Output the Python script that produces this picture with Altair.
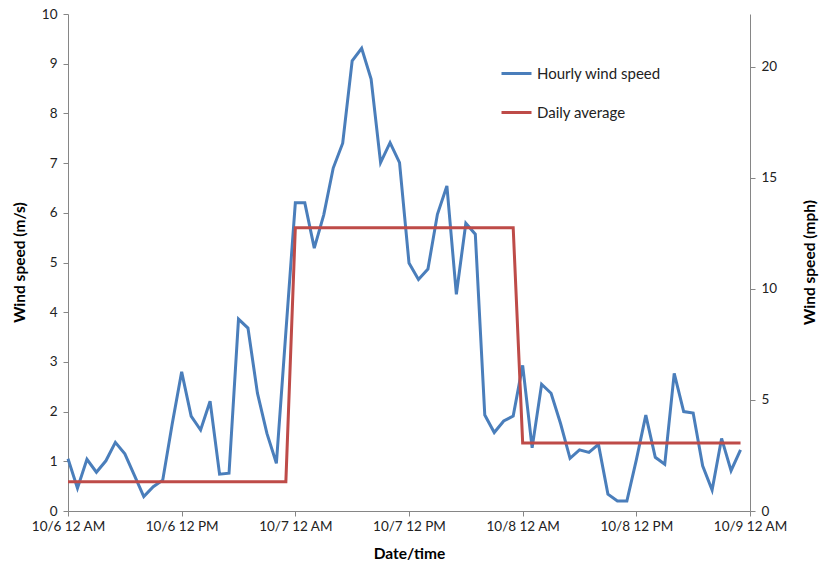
import altair as alt
import pandas as pd

# Hourly wind speed (m/s), 10/6 00:00 .. 10/8 23:00
hourly = [1.05, 0.46, 1.04, 0.78, 1.01, 1.38, 1.15, 0.72, 0.29, 0.49, 0.62, 1.75,
          2.80, 1.91, 1.63, 2.21, 0.74, 0.76, 3.86, 3.68, 2.37, 1.56, 0.96, 3.60,
          6.20, 6.20, 5.29, 5.96, 6.90, 7.40, 9.06, 9.31, 8.69, 7.01, 7.41, 7.01,
          4.99, 4.66, 4.87, 5.97, 6.54, 4.36, 5.79, 5.57, 1.93, 1.58, 1.81, 1.91,
          2.93, 1.27, 2.55, 2.37, 1.76, 1.06, 1.23, 1.18, 1.34, 0.34, 0.20, 0.20,
          1.03, 1.93, 1.08, 0.94, 2.77, 2.00, 1.97, 0.91, 0.42, 1.46, 0.81, 1.23]
daily_avg = [0.59, 5.70, 1.37]
tick_labels = ["10/6 12 AM", "10/6 12 PM", "10/7 12 AM", "10/7 12 PM",
               "10/8 12 AM", "10/8 12 PM", "10/9 12 AM"]
series_names = ["Hourly wind speed", "Daily average"]
MPH = 2.23694

hours = list(range(len(hourly)))
rows = []
for h, v in zip(hours, hourly):
    rows.append({"hour": h, "value": v, "series": series_names[0]})
for h in hours:
    rows.append({"hour": h, "value": daily_avg[h // 24], "series": series_names[1]})
df = pd.DataFrame(rows)
df["mph"] = df["value"] * MPH

label_arr = "[" + ",".join("'" + t + "'" for t in tick_labels) + "]"
FONT = "Lato"

x = alt.X("hour:Q",
          scale=alt.Scale(domain=[0, 72], nice=False, zero=False),
          axis=alt.Axis(values=[0, 12, 24, 36, 48, 60, 72],
                        labelExpr=label_arr + "[datum.value / 12]",
                        labelOverlap=False, labelFlush=False, labelBound=False,
                        labelAlign="center", labelFontSize=13.5,
                        title="Date/time", grid=False, tickSize=5,
                        labelPadding=3, titlePadding=14))

lines = alt.Chart(df).mark_line(strokeWidth=3).encode(
    x=x,
    y=alt.Y("value:Q", scale=alt.Scale(domain=[0, 10], nice=False),
            axis=alt.Axis(values=list(range(0, 11)), title="Wind speed (m/s)",
                          grid=False, tickSize=5, labelPadding=6, labelFontSize=13.5,
                          titleX=-41, titleY=248)),
    color=alt.Color("series:N",
                    scale=alt.Scale(domain=series_names, range=["#4A7EBB", "#BE4B48"]),
                    legend=alt.Legend(title=None, orient="none", legendX=432, legendY=43,
                                      symbolType="stroke", symbolSize=900,
                                      symbolStrokeWidth=3, rowPadding=14,
                                      labelFontSize=15, labelFont=FONT,
                                      labelColor="#222", labelOffset=4)),
    order=alt.Order("hour:Q"),
)

right = alt.Chart(df).mark_line(opacity=0).encode(
    x=alt.X("hour:Q", scale=alt.Scale(domain=[0, 72], nice=False, zero=False)),
    y=alt.Y("mph:Q", scale=alt.Scale(domain=[0, 10 * MPH], nice=False),
            axis=alt.Axis(orient="right", values=[0, 5, 10, 15, 20],
                          title="Wind speed (mph)", grid=False, tickSize=5,
                          labelPadding=6, labelFontSize=13.5,
                          titleX=67, titleY=248, titleAngle=270)),
    detail="series:N",
)

chart = alt.layer(lines, right).resolve_scale(y="independent").properties(
    width=682, height=497,
    autosize=alt.AutoSizeParams(type="none"),
    padding={"left": 68, "top": 14, "right": 70, "bottom": 55},
).configure_view(stroke=None).configure_axis(
    domainColor="#868686", tickColor="#868686", domainWidth=1,
    labelFont=FONT, labelFontSize=14, labelColor="#222",
    titleFont=FONT, titleFontSize=15.5, titleFontWeight="bold", titleColor="#000",
)

chart.save("out.html", embed_options={"renderer": "svg", "actions": False})
